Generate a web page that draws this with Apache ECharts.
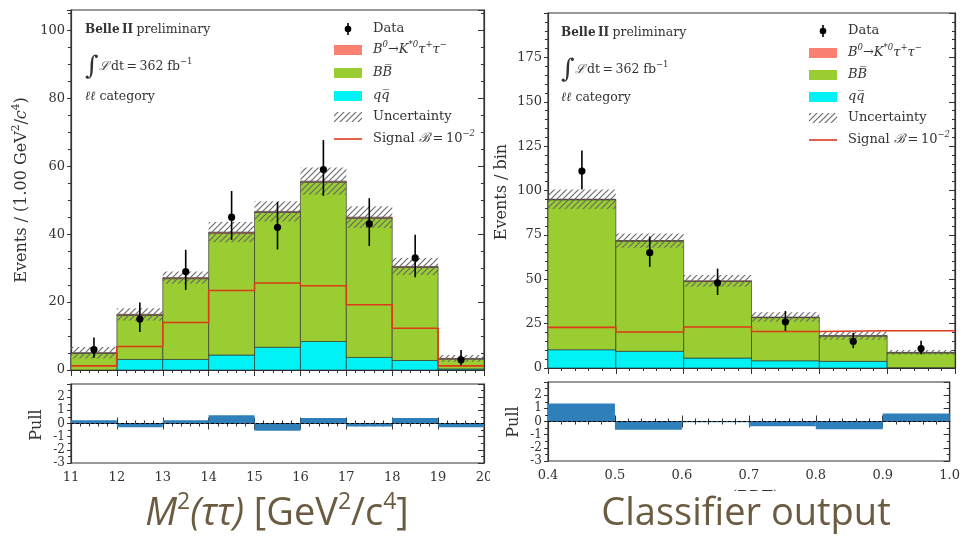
<!DOCTYPE html>
<html><head><meta charset="utf-8">
<script src="https://cdn.jsdelivr.net/npm/echarts@6/dist/echarts.min.js"></script>
<style>html,body{margin:0;padding:0;background:#fff}#c{width:963px;height:537px}</style>
</head><body><div id="c"></div>
<script>
// ---------- Left panel: M^2(tautau) ----------
const mEdges   = [11, 12, 13, 14, 15, 16, 17, 18, 19, 20];
const mQQ      = [0, 3.1, 3.1, 4.4, 6.7, 8.4, 3.7, 2.8, 0.3];
const mBB      = [4.9, 13.0, 23.8, 35.9, 39.7, 46.9, 41.0, 27.4, 2.9];
const mSigFit  = [0.2, 0.3, 0.3, 0.3, 0.3, 0.3, 0.3, 0.3, 0.2];
const mUnc     = [1.7, 1.8, 1.8, 3.0, 3.0, 4.0, 3.2, 2.5, 1.0];
const mSignal  = [1.2, 6.9, 14.0, 23.4, 25.6, 24.8, 19.2, 12.3, 1.2];
const mData    = [6, 15, 29, 45, 42, 59, 43, 33, 3];
const mErrLo   = [2.4, 3.8, 5.4, 6.7, 6.5, 7.7, 6.5, 5.7, 1.6];
const mErrHi   = [3.6, 4.9, 6.4, 7.7, 7.5, 8.7, 7.6, 6.8, 2.9];
const mPull    = [0.25, -0.28, 0.25, 0.62, -0.55, 0.42, -0.22, 0.42, -0.28];
const mYTicks  = [0, 20, 40, 60, 80, 100];

// ---------- Right panel: classifier output ----------
const bEdges   = [0.4, 0.5, 0.6, 0.7, 0.8, 0.9, 1.0];
const bQQ      = [10.3, 9.4, 5.6, 4.1, 3.75, 0.2];
const bBB      = [84.5, 62.1, 43.2, 24.3, 14.2, 8.3];
const bSigFit  = [0.3, 0.3, 0.3, 0.3, 0.3, 0.3];
const bUnc     = [5.5, 4.0, 3.3, 2.7, 2.3, 1.4];
const bSignal  = [22.9, 20.3, 23.1, 20.6, 21.0, 21.0];
const bData    = [111, 65, 48, 26, 15, 11];
const bErrLo   = [10.5, 8.0, 6.9, 5.1, 3.8, 3.3];
const bErrHi   = [11.6, 9.1, 8.0, 6.1, 4.9, 4.4];
const bPull    = [1.36, -0.63, -0.05, -0.37, -0.58, 0.6];
const bYTicks  = [0, 25, 50, 75, 100, 125, 150, 175];

const pullTicks = [-3, -2, -1, 0, 1, 2];

// ---------- styles ----------
const SERIF = "'DejaVu Serif', serif";
const C_QQ = '#00f2f5', C_BB = '#9acd32', C_SIG = '#fa8072', C_LINE = '#dc3a1a', C_PULL = '#2f80ba';
const EDGE = 'rgba(40,40,40,0.6)';
const TXT = '#333';

const hatch = (() => {
  const c = document.createElement('canvas'); c.width = 6; c.height = 6;
  const g = c.getContext('2d'); g.strokeStyle = 'rgba(100,100,100,0.95)'; g.lineWidth = 1.2;
  [[-1, 7, 7, -1], [-1, 1, 1, -1], [5, 7, 7, 5]].forEach(([a, b, d, e]) => { g.beginPath(); g.moveTo(a, b); g.lineTo(d, e); g.stroke(); });
  return c;
})();
const hatchFill = { image: hatch, repeat: 'repeat' };

function stackData(edges, base, vals) {
  return vals.map((v, i) => [edges[i], edges[i + 1], base[i], base[i] + v]);
}
function rectSeries(xi, yi, data, fill, stroke, z) {
  return {
    type: 'custom', xAxisIndex: xi, yAxisIndex: yi, z: z, silent: true, data: data,
    encode: { x: [0, 1], y: [2, 3] },
    renderItem: (p, api) => {
      const a = api.coord([api.value(0), api.value(3)]);
      const b = api.coord([api.value(1), api.value(2)]);
      return { type: 'rect', shape: { x: a[0], y: Math.min(a[1], b[1]), width: b[0] - a[0], height: Math.abs(b[1] - a[1]) },
        style: { fill: fill, stroke: stroke || null, lineWidth: stroke ? 1 : 0 } };
    }
  };
}
function errSeries(xi, yi, edges, d, lo, hi) {
  const data = d.map((v, i) => [(edges[i] + edges[i + 1]) / 2, v, v - lo[i], v + hi[i]]);
  return {
    type: 'custom', xAxisIndex: xi, yAxisIndex: yi, z: 6, silent: true, data: data,
    encode: { x: 0, y: [1, 2, 3] },
    renderItem: (p, api) => {
      const c = api.coord([api.value(0), api.value(1)]);
      const a = api.coord([api.value(0), api.value(2)]);
      const b = api.coord([api.value(0), api.value(3)]);
      return { type: 'group', children: [
        { type: 'line', shape: { x1: a[0], y1: a[1], x2: b[0], y2: b[1] }, style: { stroke: '#000', lineWidth: 1.6 } },
        { type: 'circle', shape: { cx: c[0], cy: c[1], r: 3.6 }, style: { fill: '#000' } }
      ] };
    }
  };
}
function stepLine(xi, yi, edges, vals) {
  return { type: 'line', xAxisIndex: xi, yAxisIndex: yi, z: 5, step: 'end', showSymbol: false, silent: true,
    data: edges.map((e, i) => [e, vals[Math.min(i, vals.length - 1)]]),
    lineStyle: { color: C_LINE, width: 1.6 } };
}
function zeroLine(xi, yi, edges) {
  return { type: 'line', xAxisIndex: xi, yAxisIndex: yi, z: 5, showSymbol: false, silent: true,
    data: [[edges[0], 0], [edges[edges.length - 1], 0]],
    lineStyle: { color: '#000', width: 1, type: [3, 2] } };
}
function panelSeries(xi, yi, edges, qq, bb, sf, unc, sig, d, lo, hi) {
  const zeros = qq.map(() => 0);
  const b1 = qq.slice();
  const b2 = qq.map((q, i) => q + bb[i]);
  const tot = b2.map((v, i) => v + sf[i]);
  return [
    rectSeries(xi, yi, stackData(edges, zeros, qq), C_QQ, EDGE, 2),
    rectSeries(xi, yi, stackData(edges, b1, bb), C_BB, EDGE, 2),
    rectSeries(xi, yi, stackData(edges, b2, sf), C_SIG, EDGE, 2),
    rectSeries(xi, yi, edges.slice(0, -1).map((e, i) => [e, edges[i + 1], tot[i] - unc[i], tot[i] + unc[i]]), hatchFill, null, 3),
    stepLine(xi, yi, edges, sig),
    errSeries(xi, yi, edges, d, lo, hi)
  ];
}
function pullSeries(xi, yi, edges, pull) {
  return [
    rectSeries(xi, yi, pull.map((p, i) => [edges[i], edges[i + 1], 0, p]), C_PULL, null, 2),
    zeroLine(xi, yi, edges)
  ];
}

// ---------- axes ----------
const labelStyle = { color: TXT, fontFamily: SERIF, fontSize: 13 };
function xAx(grid, edges, interval, pos, labels, fmt) {
  return { type: 'value', gridIndex: grid, position: pos, min: edges[0], max: edges[edges.length - 1], interval: interval,
    axisLine: { show: true, lineStyle: { color: '#333', width: 1.2 } },
    axisTick: { show: true, inside: true, length: 6, lineStyle: { color: '#333' } },
    minorTick: { show: true, splitNumber: 5, length: 3, lineStyle: { color: '#333' } },
    splitLine: { show: false },
    axisLabel: { show: labels, margin: 8, formatter: fmt, ...labelStyle } };
}
function yAx(grid, min, max, interval, pos, labels, ticks, minorSplit, fs) {
  return { type: 'value', gridIndex: grid, position: pos, min: min, max: max, interval: interval,
    axisLine: { show: true, lineStyle: { color: '#333', width: 1.2 } },
    axisTick: { show: true, inside: pos === 'right', length: pos === 'right' ? 6 : 4, lineStyle: { color: '#333' } },
    minorTick: { show: true, splitNumber: minorSplit, length: 3, lineStyle: { color: '#333' } },
    splitLine: { show: false },
    axisLabel: { show: labels, margin: 6, ...labelStyle, fontSize: fs || 13,
      formatter: v => (ticks.indexOf(v) >= 0 ? String(v) : '') } };
}

// ---------- legend & text (graphic) ----------
const legStyle = {
  n: { fontFamily: SERIF, fontSize: 13, fill: TXT, lineHeight: 20 },
  i: { fontFamily: SERIF, fontSize: 13, fontStyle: 'italic', fill: TXT, lineHeight: 20 },
  s: { fontFamily: SERIF, fontSize: 8.5, fontStyle: 'italic', fill: TXT, verticalAlign: 'top', lineHeight: 12 }
};
const legTexts = ['{n|Data}', '{i|B}{s|0}{i|→K}{s|*0}{i|τ}{s|+}{i|τ}{s|−}', '{i|BB\u0305}', '{i|qq\u0305}', '{n|Uncertainty}', '{n|Signal }{i|ℬ}{n|\u2009=\u200910}{s|−2}'];
function legend(x0, rows) {
  const out = [];
  const xm = x0 + 14, w = 28;
  rows.forEach((y, k) => {
    if (k === 0) {
      out.push({ type: 'line', shape: { x1: xm, y1: y - 6, x2: xm, y2: y + 6 }, style: { stroke: '#000', lineWidth: 1.6 } });
      out.push({ type: 'circle', shape: { cx: xm, cy: y, r: 3.3 }, style: { fill: '#000' } });
    } else if (k <= 3) {
      out.push({ type: 'rect', shape: { x: x0, y: y - 5, width: w, height: 10 }, style: { fill: [C_SIG, C_BB, C_QQ][k - 1] } });
    } else if (k === 4) {
      out.push({ type: 'rect', shape: { x: x0, y: y - 5, width: w, height: 10 }, style: { fill: hatchFill } });
    } else {
      out.push({ type: 'line', shape: { x1: x0, y1: y, x2: x0 + w, y2: y }, style: { stroke: C_LINE, lineWidth: 1.6 } });
    }
    out.push({ type: 'text', x: x0 + 39, y: y, style: { text: legTexts[k], rich: legStyle, textVerticalAlign: 'middle' } });
  });
  return out;
}
const infoStyle = {
  b: { fontFamily: SERIF, fontSize: 12, fontWeight: 'bold', fill: TXT, lineHeight: 20 },
  n: { fontFamily: SERIF, fontSize: 12.5, fill: TXT, lineHeight: 20 },
  i: { fontFamily: SERIF, fontSize: 12.5, fontStyle: 'italic', fill: TXT, lineHeight: 20 },
  int: { fontFamily: SERIF, fontSize: 26, fill: TXT, lineHeight: 20 },
  s: { fontFamily: SERIF, fontSize: 8.5, fill: TXT, verticalAlign: 'top', lineHeight: 12 }
};
function info(x, y1, y2, y3) {
  return [
    { type: 'text', x: x, y: y1, style: { text: '{b|Belle\u2009II} {n|preliminary}', rich: infoStyle, textVerticalAlign: 'middle' } },
    { type: 'text', x: x, y: y2, style: { text: '{int|∫}{i|ℒ}{n|\u2009dt\u2009=\u2009362 fb}{s|−1}', rich: infoStyle, textVerticalAlign: 'middle' } },
    { type: 'text', x: x, y: y3, style: { text: '{i|ℓℓ}{n| category}', rich: infoStyle, textVerticalAlign: 'middle' } }
  ];
}
const yLabStyle = {
  n: { fontFamily: SERIF, fontSize: 16, fill: TXT, lineHeight: 22 },
  i: { fontFamily: SERIF, fontSize: 16, fontStyle: 'italic', fill: TXT, lineHeight: 22 },
  s: { fontFamily: SERIF, fontSize: 10.5, fill: TXT, verticalAlign: 'top', lineHeight: 13 }
};
function vText(x, y, text, rich) {
  return { type: 'text', x: x, y: y, rotation: Math.PI / 2,
    style: { text: text, rich: rich, textAlign: 'center', textVerticalAlign: 'middle' } };
}
const TITLE_C = '#6b5b40';
const titleStyle = {
  n: { fontFamily: "'Open Sans', sans-serif", fontSize: 38, fill: TITLE_C, lineHeight: 46 },
  i: { fontFamily: "'Open Sans', sans-serif", fontSize: 38, fontStyle: 'italic', fill: TITLE_C, lineHeight: 46 },
  s: { fontFamily: "'Open Sans', sans-serif", fontSize: 23, fill: TITLE_C, verticalAlign: 'top', lineHeight: 24 }
};

const graphic = [].concat(
  legend(334, [29, 50, 73, 96, 117, 139]),
  legend(809, [31, 53, 75, 97, 118, 140]),
  info(85, 30, 67, 97),
  info(561, 33, 70, 98),
  [
    vText(22, 190, '{n|Events / (1.00 GeV}{s|2}{n|/}{i|c}{s|4}{n|)}', yLabStyle),
    vText(502, 192, '{n|Events / bin}', yLabStyle),
    vText(37, 425, '{n|Pull}', yLabStyle),
    vText(514, 422, '{n|Pull}', yLabStyle),
    { type: 'text', x: 755, y: 498, style: { text: '(BDT)', fontFamily: SERIF, fontSize: 16, fill: TXT, textAlign: 'center', textVerticalAlign: 'middle' } },
    { type: 'rect', z: 50, shape: { x: 530, y: 491, width: 433, height: 46 }, style: { fill: '#fff' } },
    { type: 'rect', z: 50, shape: { x: 490, y: 466, width: 6, height: 24 }, style: { fill: '#fff' } },
    { type: 'text', z: 60, x: 277, y: 514, style: { text: '{i|M}{s|2}{i|(ττ)}{n| [GeV}{s|2}{n|/c}{s|4}{n|]}', rich: titleStyle, textAlign: 'center', textVerticalAlign: 'middle' } },
    { type: 'text', z: 60, x: 746, y: 514, style: { text: '{n|Classifier output}', rich: titleStyle, textAlign: 'center', textVerticalAlign: 'middle' } }
  ]
);

const option = {
  animation: false,
  backgroundColor: '#fff',
  grid: [
    { left: 71, top: 10, width: 413, height: 360, show: true, borderColor: '#333', borderWidth: 1.2, containLabel: false },
    { left: 71, top: 384, width: 413, height: 79, show: true, borderColor: '#333', borderWidth: 1.2 },
    { left: 548, top: 13, width: 407, height: 355, show: true, borderColor: '#333', borderWidth: 1.2 },
    { left: 548, top: 382, width: 407, height: 79, show: true, borderColor: '#333', borderWidth: 1.2 }
  ],
  xAxis: [
    xAx(0, mEdges, 1, 'bottom', false),
    xAx(0, mEdges, 1, 'top', false),
    xAx(1, mEdges, 1, 'bottom', true, v => String(v)),
    xAx(1, mEdges, 1, 'top', false),
    xAx(2, bEdges, 0.1, 'bottom', false),
    xAx(2, bEdges, 0.1, 'top', false),
    xAx(3, bEdges, 0.1, 'bottom', true, v => v.toFixed(1)),
    xAx(3, bEdges, 0.1, 'top', false)
  ],
  yAxis: [
    yAx(0, 0, 106, 20, 'left', true, mYTicks, 4),
    yAx(0, 0, 106, 20, 'right', false, mYTicks, 4),
    yAx(1, -3, 3, 1, 'left', true, pullTicks, 2, 12),
    yAx(1, -3, 3, 1, 'right', false, pullTicks, 2),
    yAx(2, 0, 200, 25, 'left', true, bYTicks, 5),
    yAx(2, 0, 200, 25, 'right', false, bYTicks, 5),
    yAx(3, -3, 3, 1, 'left', true, pullTicks, 2, 12),
    yAx(3, -3, 3, 1, 'right', false, pullTicks, 2)
  ],
  series: [].concat(
    panelSeries(0, 0, mEdges, mQQ, mBB, mSigFit, mUnc, mSignal, mData, mErrLo, mErrHi),
    pullSeries(2, 2, mEdges, mPull),
    panelSeries(4, 4, bEdges, bQQ, bBB, bSigFit, bUnc, bSignal, bData, bErrLo, bErrHi),
    pullSeries(6, 6, bEdges, bPull)
  ),
  graphic: graphic
};
const chart = echarts.init(document.getElementById('c'), null, { renderer: 'canvas' });
chart.setOption(option);
</script>
</body></html>
